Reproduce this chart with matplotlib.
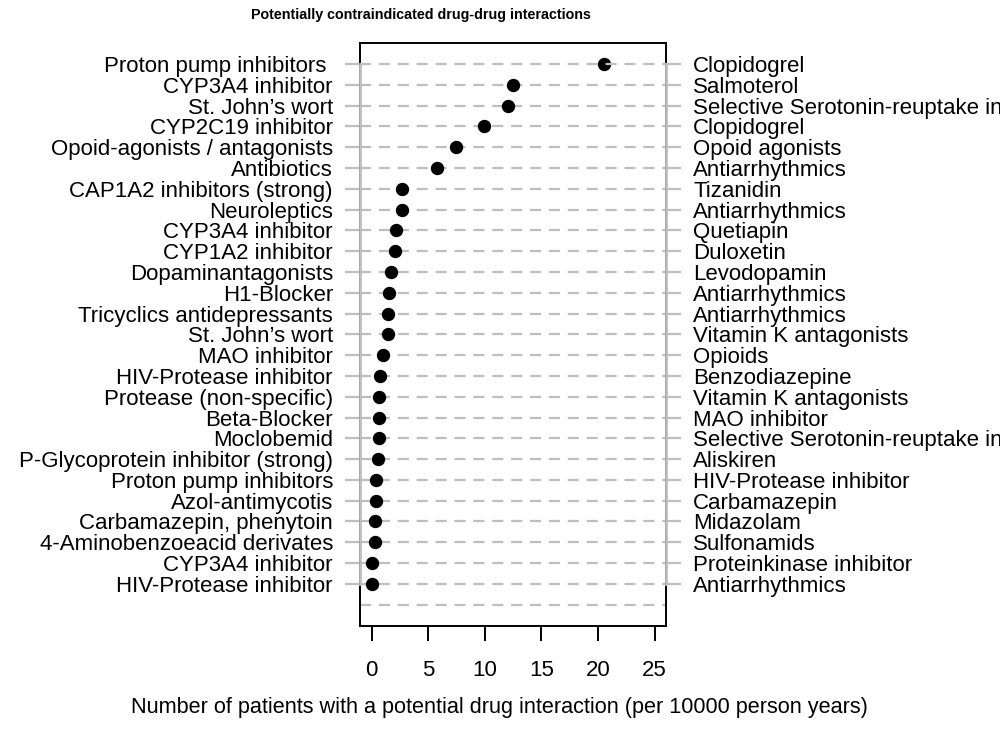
import matplotlib
matplotlib.use("Agg")
import matplotlib.pyplot as plt

# drug pairs, top row first
left_labels = [
    "Proton pump inhibitors ", "CYP3A4 inhibitor", "St. John\u2019s wort", "CYP2C19 inhibitor",
    "Opoid-agonists / antagonists", "Antibiotics", "CAP1A2 inhibitors (strong)", "Neuroleptics",
    "CYP3A4 inhibitor", "CYP1A2 inhibitor", "Dopaminantagonists", "H1-Blocker",
    "Tricyclics antidepressants", "St. John\u2019s wort", "MAO inhibitor", "HIV-Protease inhibitor",
    "Protease (non-specific)", "Beta-Blocker", "Moclobemid", "P-Glycoprotein inhibitor (strong)",
    "Proton pump inhibitors", "Azol-antimycotis", "Carbamazepin, phenytoin",
    "4-Aminobenzoeacid derivates", "CYP3A4 inhibitor", "HIV-Protease inhibitor",
]
right_labels = [
    "Clopidogrel", "Salmoterol", "Selective Serotonin-reuptake inhibitors", "Clopidogrel",
    "Opoid agonists", "Antiarrhythmics", "Tizanidin", "Antiarrhythmics",
    "Quetiapin", "Duloxetin", "Levodopamin", "Antiarrhythmics",
    "Antiarrhythmics", "Vitamin K antagonists", "Opioids", "Benzodiazepine",
    "Vitamin K antagonists", "MAO inhibitor", "Selective Serotonin-reuptake inhibitors", "Aliskiren",
    "HIV-Protease inhibitor", "Carbamazepin", "Midazolam",
    "Sulfonamids", "Proteinkinase inhibitor", "Antiarrhythmics",
]
patients = [
    20.55, 12.45, 12.0, 9.95, 7.45, 5.77, 2.71, 2.7, 2.15, 2.09, 1.68, 1.5, 1.47,
    1.44, 1.03, 0.71, 0.67, 0.65, 0.62, 0.53, 0.41, 0.38, 0.32, 0.26, 0.03, 0.03,
]
x_ticks = [0, 5, 10, 15, 20, 25]

n = len(patients)
rows = list(range(n, 0, -1))  # top row = n, bottom labeled row = 1, empty row at 0
grey = "#bebebe"
xlim = (-1.03, 26.0)

plt.rcParams["font.family"] = ["Liberation Sans", "DejaVu Sans"]

fig = plt.figure(figsize=(10, 7.4), dpi=100)
ax = fig.add_axes([0.36, 0.154, 0.306, 0.788])

# dashed row lines inside the box (one extra empty row at the bottom)
for i, y in enumerate(rows + [0]):
    ax.plot(xlim, [y, y], color=grey, lw=1.6, ls=(0, (5, 3.5)),
            zorder=4 if i == 0 else 2)

ax.plot(patients, rows, "o", color="black", ms=8.6, zorder=3)

ax.set_xlim(xlim)
ax.set_ylim(-1.03, n + 1.02)

# grey side lines over the box edges
for xe in xlim:
    ax.plot([xe, xe], [rows[-1], rows[0]], color=grey, lw=2, zorder=5, clip_on=False)

for s in ax.spines.values():
    s.set_linewidth(1.4)

ax.set_xticks(x_ticks)
ax.tick_params(axis="x", length=10.5, width=1.4, pad=14, labelsize=16)
ax.set_yticks(rows)
ax.set_yticklabels(left_labels)
ax.tick_params(axis="y", length=10.5, width=1.6, color=grey, pad=9, labelsize=16)

ax2 = ax.twinx()
ax2.set_ylim(ax.get_ylim())
ax2.set_yticks(rows)
ax2.set_yticklabels(right_labels)
ax2.tick_params(axis="y", length=10.5, width=1.6, color=grey, pad=9, labelsize=16)
for s in ax2.spines.values():
    s.set_visible(False)

fig.text(0.421, 1 - 15 / 740, "Potentially contraindicated drug-drug interactions",
         ha="center", va="center", fontsize=10.3, fontweight="bold",
         family=["Liberation Sans Narrow", "Liberation Sans"])
fig.text(0.499, 1 - 707 / 740,
         "Number of patients with a potential drug interaction (per 10000 person years)",
         ha="center", va="center", fontsize=15.6,
         family=["Liberation Sans Narrow", "Liberation Sans"])

fig.savefig("out.png", dpi=100)
